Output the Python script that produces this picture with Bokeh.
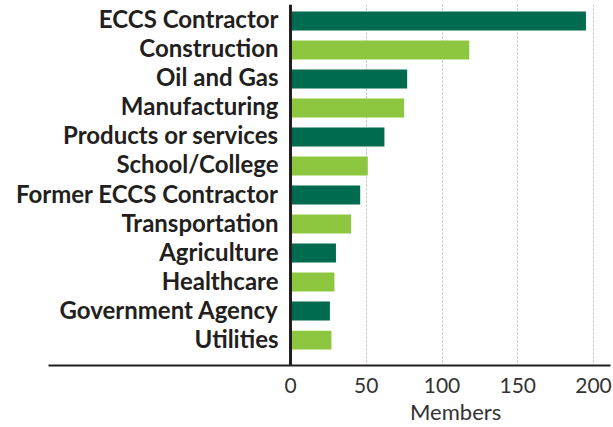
from bokeh.plotting import figure
from bokeh.models import Range1d, FixedTicker, Span, ColumnDataSource, LinearAxis
from bokeh.core.properties import value
from bokeh.embed import file_html
from bokeh.resources import INLINE

categories = ["ECCS Contractor", "Construction", "Oil and Gas", "Manufacturing",
              "Products or services", "School/College", "Former ECCS Contractor",
              "Transportation", "Agriculture", "Healthcare", "Government Agency",
              "Utilities"]
members = [195, 118, 77, 75, 62, 51, 46, 40, 30, 29, 26, 27]
x_ticks = [0, 50, 100, 150, 200]
x_title = "Members"

DARK = "#006B4F"
LIGHT = "#8DC63F"
colors = [DARK if i % 2 == 0 else LIGHT for i in range(len(categories))]

src = ColumnDataSource(dict(
    y=list(range(len(categories))),
    category=categories,
    members=members,
    color=colors,
))

PX_PER_UNIT = 1.515          # horizontal scale (px per member)
x_start = -286 / PX_PER_UNIT  # room for the category labels
x_end = 320 / PX_PER_UNIT
rule_start = -242 / PX_PER_UNIT  # where the bottom rule begins
title_pos = 109                  # horizontal position of the axis title

p = figure(width=613, height=427, output_backend="svg", toolbar_location=None,
           x_range=Range1d(x_start, x_end), y_range=Range1d(11.877, -0.567),
           y_axis_location=None,
           min_border_left=4, min_border_right=3, min_border_top=4,
           min_border_bottom=61)
p.outline_line_color = None
p.background_fill_color = "white"

p.hbar(y="y", left=0, right="members", height=0.65, fill_color="color",
       line_color=None, source=src)

p.text(x=0, y="y", text="category", x_offset=-12, y_offset=-2,
       text_align="right", text_baseline="middle", text_font=value("Lato"),
       text_font_style="bold", text_font_size="24px", text_color="#231f20",
       source=src)

p.add_layout(Span(location=0, dimension="height", line_color="#231f20",
                  line_width=3))

p.ygrid.visible = False
p.xgrid.ticker = FixedTicker(ticks=x_ticks[1:])
p.xgrid.grid_line_color = "#bbbbbb"
p.xgrid.grid_line_dash = "2 2"
p.xgrid.grid_line_width = 1

ax = p.xaxis[0]
ax.ticker = FixedTicker(ticks=x_ticks)
ax.bounds = (rule_start, x_end)
ax.axis_line_color = "#231f20"
ax.axis_line_width = 2
ax.major_tick_line_color = None
ax.major_tick_out = 0
ax.major_tick_in = 0
ax.minor_tick_line_color = None
ax.minor_tick_out = 0
ax.major_label_text_font = "Lato"
ax.major_label_text_font_size = "21px"
ax.major_label_text_color = "#333333"
ax.major_label_standoff = 12

# axis title, placed under the middle of the 0-200 scale
ax2 = LinearAxis(ticker=FixedTicker(ticks=[title_pos]),
                 major_label_overrides={title_pos: x_title},
                 axis_line_color=None, major_tick_line_color=None,
                 minor_tick_line_color=None, major_tick_out=0, minor_tick_out=0,
                 major_tick_in=0, major_label_standoff=2,
                 major_label_text_font="Lato",
                 major_label_text_font_size="22px",
                 major_label_text_color="#333333")
p.add_layout(ax2, "below")

open("out.html", "w").write(file_html(p, INLINE))
